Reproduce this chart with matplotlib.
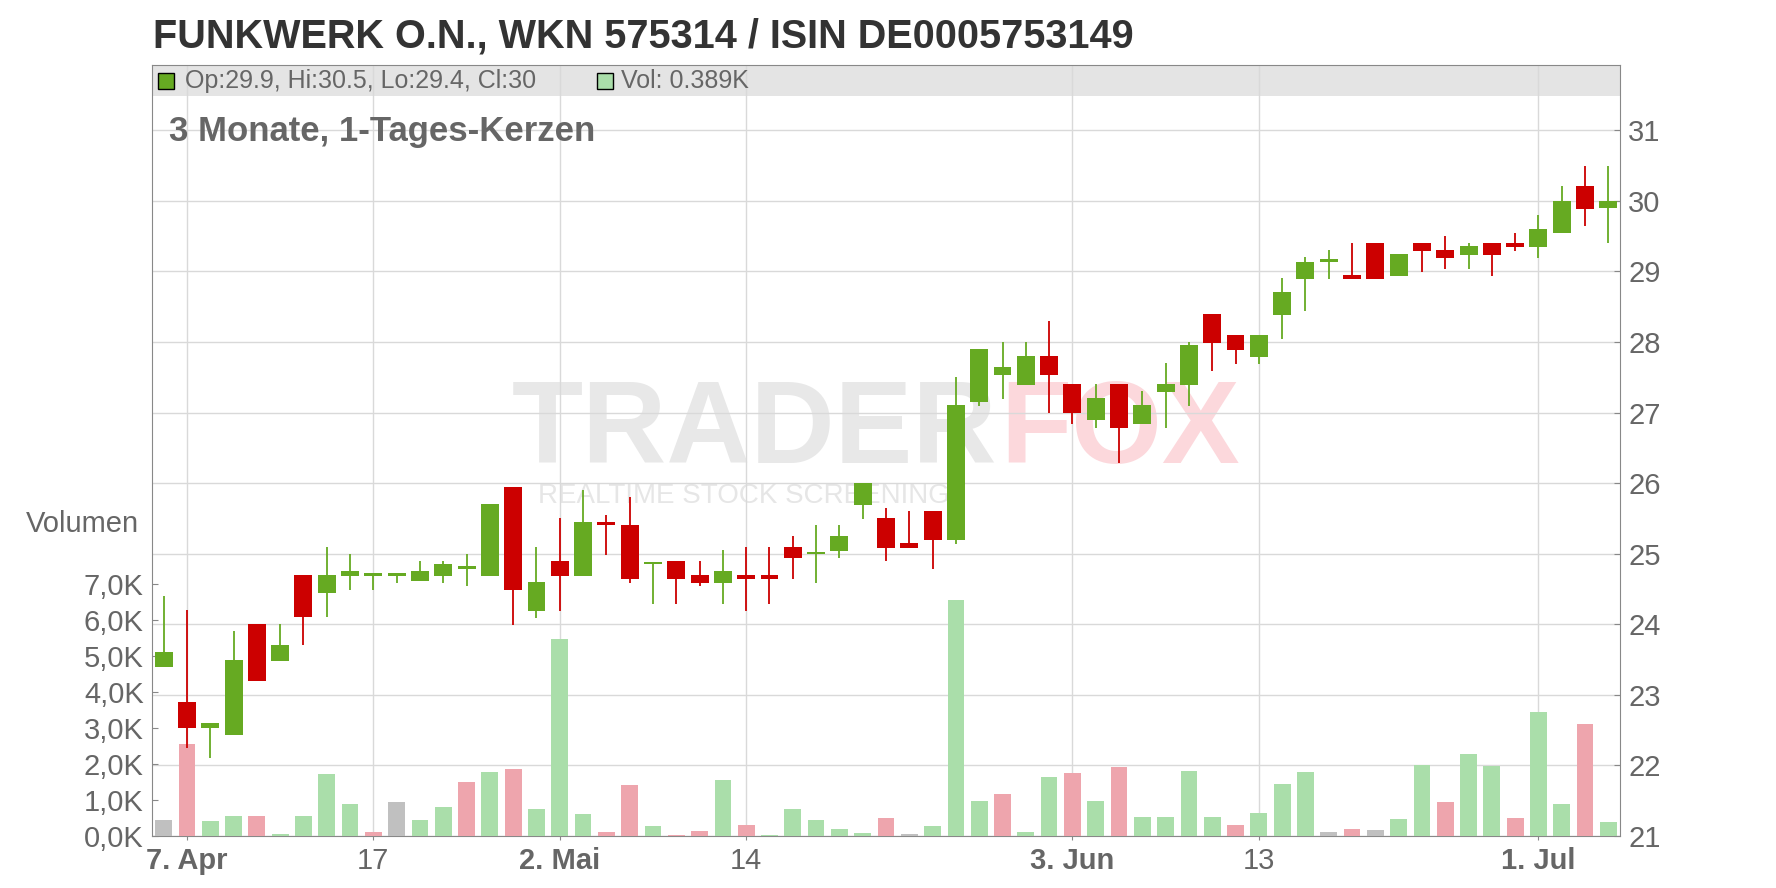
import matplotlib
matplotlib.use("Agg")
import matplotlib.pyplot as plt
from matplotlib.patches import Rectangle

plt.rcParams['font.family'] = ['Liberation Sans', 'DejaVu Sans']

# daily candles, 4. Apr - 4. Jul
opens = [23.39, 22.90, 22.53, 22.43, 24.00, 23.48, 24.70, 24.45, 24.69, 24.69,
         24.69, 24.62, 24.69, 24.79, 24.69, 25.94, 24.19, 24.90, 24.69, 25.45,
         25.40, 24.85, 24.90, 24.70, 24.59, 24.70, 24.70, 25.09, 24.99, 25.04,
         25.69, 25.50, 25.15, 25.60, 25.19, 27.15, 27.53, 27.39, 27.80, 27.40,
         26.90, 27.40, 26.84, 27.29, 27.39, 28.39, 28.10, 27.79, 28.38, 28.89,
         29.14, 28.95, 29.40, 28.94, 29.40, 29.30, 29.23, 29.40, 29.40, 29.35,
         29.55, 30.21, 29.90]
highs = [24.40, 24.20, 22.60, 23.90, 24.00, 24.00, 24.70, 25.09, 24.99, 24.69,
         24.69, 24.90, 24.90, 24.99, 25.70, 25.94, 25.09, 25.50, 25.90, 25.55,
         25.80, 24.85, 24.90, 24.90, 25.05, 25.09, 25.09, 25.25, 25.40, 25.40,
         26.00, 25.65, 25.60, 25.60, 27.50, 27.90, 28.00, 28.00, 28.30, 27.40,
         27.40, 27.40, 27.30, 27.70, 28.00, 28.39, 28.10, 28.10, 28.90, 29.20,
         29.30, 29.40, 29.40, 29.24, 29.40, 29.50, 29.40, 29.40, 29.55, 29.80,
         30.21, 30.50, 30.50]
lows = [23.39, 22.24, 22.10, 22.43, 23.19, 23.48, 23.70, 24.10, 24.49, 24.49,
        24.59, 24.62, 24.59, 24.54, 24.69, 23.99, 24.09, 24.19, 24.69, 24.98,
        24.59, 24.29, 24.29, 24.54, 24.29, 24.19, 24.29, 24.64, 24.59, 24.94,
        25.49, 24.89, 25.08, 24.78, 25.14, 27.09, 27.19, 27.39, 26.99, 26.84,
        26.78, 26.29, 26.84, 26.78, 27.09, 27.59, 27.69, 27.69, 28.04, 28.44,
        28.89, 28.89, 28.89, 28.94, 28.99, 29.04, 29.04, 28.94, 29.29, 29.19,
        29.55, 29.64, 29.40]
closes = [23.61, 22.53, 22.60, 23.49, 23.19, 23.71, 24.10, 24.70, 24.75, 24.69,
          24.69, 24.75, 24.85, 24.79, 25.70, 24.49, 24.60, 24.69, 25.45, 25.40,
          24.64, 24.85, 24.64, 24.59, 24.75, 24.64, 24.64, 24.94, 24.99, 25.25,
          26.00, 25.08, 25.08, 25.19, 27.10, 27.90, 27.64, 27.80, 27.53, 26.99,
          27.20, 26.78, 27.10, 27.40, 27.95, 27.99, 27.89, 28.10, 28.71, 29.14,
          29.14, 28.89, 28.89, 29.24, 29.29, 29.19, 29.36, 29.23, 29.35, 29.60,
          30.00, 29.89, 30.00]
# volume in thousand shares
volumes = [0.44, 2.56, 0.42, 0.56, 0.56, 0.06, 0.56, 1.72, 0.89, 0.11,
           0.94, 0.44, 0.81, 1.50, 1.78, 1.86, 0.75, 5.47, 0.61, 0.11,
           1.42, 0.28, 0.03, 0.14, 1.56, 0.31, 0.03, 0.75, 0.44, 0.19,
           0.08, 0.50, 0.06, 0.28, 6.56, 0.97, 1.17, 0.11, 1.64, 1.75,
           0.97, 1.92, 0.53, 0.53, 1.81, 0.53, 0.31, 0.64, 1.44, 1.78,
           0.11, 0.19, 0.17, 0.47, 1.97, 0.94, 2.28, 1.95, 0.50, 3.44,
           0.89, 3.11, 0.389]
# close vs. previous close: u = up, d = down, n = unchanged
vol_dir = list("nduuduuuud"
               "nuududuuud"
               "dudduduuuu"
               "udnuuuduud"
               "uduuuuduuu"
               "ndnuuduudu"
               "udu")

tick_pos = [1, 9, 17, 25, 39, 47, 59]
tick_labels = ["7. Apr", "17", "2. Mai", "14", "3. Jun", "13", "1. Jul"]
tick_bold = [True, False, True, False, True, False, True]
price_ticks = list(range(21, 32))
vol_ticks = list(range(0, 8))

W, H = 1776, 888
GREEN, RED = '#66aa22', '#cc0000'
VOL_COL = {'u': '#aadeaa', 'd': '#eea5ad', 'n': '#c0c0c0'}
GRAY_TXT = '#666666'
SPINE = '#888888'

fig = plt.figure(figsize=(W / 100, H / 100), dpi=100)
ax_h = 836 - 65.3
base = fig.add_axes([152 / W, 1 - 836 / H, 1468 / W, ax_h / H])
base.set_xlim(-0.5, 62.5)
base.set_ylim(21, 31.92)
base.set_axisbelow(True)
base.set_yticks(price_ticks)
base.grid(True, color='#d9d9d9', linewidth=1.0)
base.set_xticks(tick_pos, tick_labels)
base.tick_params(axis='x', direction='out', length=3, color=SPINE,
                 labelsize=21, labelcolor=GRAY_TXT, pad=5)
for lab, b in zip(base.get_xticklabels(), tick_bold):
    lab.set_fontweight('bold' if b else 'normal')
for sp in base.spines.values():
    sp.set_color(SPINE)

# header band
band = 31 / ax_h
base.add_patch(Rectangle((0, 1 - band), 1, band, transform=base.transAxes,
                         facecolor='#e4e4e4', edgecolor='none', zorder=0.3))

# watermark
base.text((512 - 152) / 1468, (836 - 463) / ax_h, "TRADER", transform=base.transAxes,
          fontsize=84, fontweight='bold', color='#e8e8e8', zorder=0.35)
base.text((1000 - 152) / 1468, (836 - 463) / ax_h, "FOX", transform=base.transAxes,
          fontsize=84, fontweight='bold', color='#fcd8dc', zorder=0.35)
base.text((538 - 152) / 1468, (836 - 503) / ax_h, "REALTIME STOCK SCREENING",
          transform=base.transAxes, fontsize=20, color='#e6e6e6', zorder=0.35)

# volume
vol = base.twinx()
vol.set_ylim(0, (836 - 65.3) / 36)
vol.yaxis.tick_left()
vol.set_yticks(vol_ticks, [f"{v:.1f}K".replace('.', ',') for v in vol_ticks])
vol.tick_params(axis='y', direction='in', length=4, color=SPINE,
                labelsize=21, labelcolor=GRAY_TXT, pad=6)
x = list(range(len(volumes)))
vol.bar(x, volumes, width=0.72, color=[VOL_COL[d] for d in vol_dir], zorder=2)
for sp in vol.spines.values():
    sp.set_visible(False)

# candles
pr = base.twinx()
pr.set_ylim(21, 31.92)
pr.set_yticks(price_ticks)
pr.tick_params(axis='y', direction='in', length=4, color=SPINE,
               labelsize=21, labelcolor=GRAY_TXT, pad=6)
cols = [GREEN if c >= o else RED for o, c in zip(opens, closes)]
pr.vlines(x, lows, highs, colors=cols, linewidth=1.3, zorder=2)
bottoms = [min(o, c) for o, c in zip(opens, closes)]
heights = [max(abs(c - o), 0.03) for o, c in zip(opens, closes)]
pr.bar(x, heights, bottom=bottoms, width=0.77, color=cols, zorder=3)
for sp in pr.spines.values():
    sp.set_visible(False)

# base keeps only the grid, no y ticks of its own
base.tick_params(axis='y', left=False, right=False, labelleft=False, labelright=False)

# legend line in header
ly = (836 - 80.5) / ax_h
pr.plot([(166 - 152) / 1468], [ly], marker='s', ms=12, mfc=GREEN, mec='black',
        mew=1, transform=base.transAxes, clip_on=False, zorder=5)
pr.text((185 - 152) / 1468, ly, f"Op:{opens[-1]:g}, Hi:{highs[-1]:g}, Lo:{lows[-1]:g}, Cl:{closes[-1]:g}",
        transform=base.transAxes, fontsize=18, color=GRAY_TXT, va='center', zorder=5)
pr.plot([(605 - 152) / 1468], [ly], marker='s', ms=12, mfc=VOL_COL['u'], mec='black',
        mew=1, transform=base.transAxes, clip_on=False, zorder=5)
pr.text((621 - 152) / 1468, ly, f"Vol: {volumes[-1]:.3f}K",
        transform=base.transAxes, fontsize=18, color=GRAY_TXT, va='center', zorder=5)

pr.text((169 - 152) / 1468, (836 - 140.7) / ax_h, "3 Monate, 1-Tages-Kerzen",
        transform=base.transAxes, fontsize=25, fontweight='bold', color=GRAY_TXT,
        va='baseline', zorder=5)

fig.text(153 / W, 1 - 47.6 / H, "FUNKWERK O.N., WKN 575314 / ISIN DE0005753149",
         fontsize=28.5, fontweight='bold', color='#333333', va='baseline')
fig.text(139 / W, 1 - 532.3 / H, "Volumen", fontsize=21, color=GRAY_TXT,
         ha='right', va='baseline')

fig.savefig("out.png", dpi=100)
